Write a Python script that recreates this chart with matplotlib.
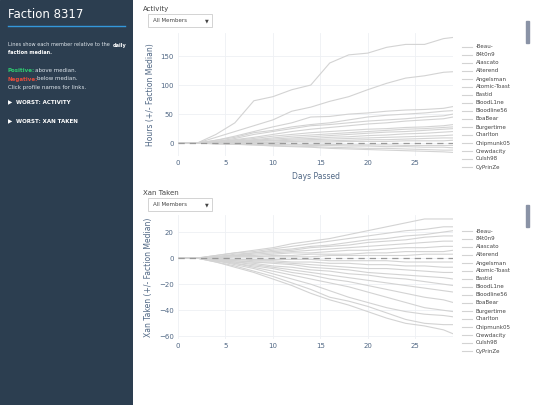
import matplotlib.pyplot as plt
from matplotlib.patches import Rectangle

days = [0, 2, 4, 6, 8, 10, 12, 14, 16, 18, 20, 22, 24, 26, 28, 29]

activity = [
    [0, 0, 15, 35, 73, 80, 92, 100, 138, 152, 155, 165, 170, 170, 180, 182],
    [0, 0, 10, 20, 30, 40, 55, 62, 72, 80, 92, 103, 112, 116, 122, 123],
    [0, 0, 5, 12, 20, 28, 35, 45, 46, 50, 52, 55, 57, 58, 60, 63],
    [0, 0, 5, 10, 18, 22, 28, 32, 35, 40, 45, 48, 50, 52, 55, 56],
    [0, 0, 3, 8, 15, 20, 25, 30, 32, 35, 38, 40, 42, 45, 47, 50],
    [0, 0, 3, 6, 10, 15, 20, 24, 27, 30, 33, 35, 38, 40, 42, 45],
    [0, 0, 2, 5, 8, 12, 15, 18, 20, 22, 24, 25, 27, 28, 30, 32],
    [0, 0, 2, 4, 6, 9, 12, 14, 16, 18, 20, 22, 24, 25, 27, 28],
    [0, 0, 1, 3, 5, 7, 9, 11, 13, 15, 17, 19, 20, 22, 24, 25],
    [0, 0, 1, 2, 4, 5, 7, 8, 10, 11, 13, 14, 16, 17, 19, 20],
    [0, 0, 1, 2, 3, 4, 5, 6, 7, 8, 9, 10, 11, 12, 13, 14],
    [0, 0, 0, 1, 2, 2, 3, 4, 4, 5, 6, 6, 7, 8, 9, 9],
    [0, 0, 0, 1, 1, 1, 2, 2, 2, 3, 3, 3, 4, 4, 4, 5],
    [0, 0, 0, -1, -1, -1, -2, -2, -2, -3, -3, -3, -4, -4, -4, -4],
    [0, 0, -1, -1, -2, -2, -3, -4, -4, -5, -5, -6, -6, -7, -7, -8],
    [0, 0, -1, -2, -3, -4, -5, -6, -7, -8, -9, -9, -10, -11, -12, -12],
    [0, 0, -1, -2, -3, -5, -6, -7, -9, -10, -11, -12, -13, -14, -15, -16],
]

xan = [
    [0, 0, 2, 4, 6, 8, 11, 13, 15, 18, 21, 24, 27, 30, 30, 30],
    [0, 0, 2, 4, 5, 7, 9, 11, 13, 15, 17, 19, 21, 22, 24, 24],
    [0, 0, 1, 3, 4, 6, 7, 9, 10, 12, 14, 15, 17, 18, 20, 21],
    [0, 0, 1, 2, 4, 5, 6, 8, 9, 10, 12, 13, 14, 16, 17, 17],
    [0, 0, 1, 2, 3, 4, 5, 6, 7, 8, 9, 10, 11, 12, 13, 13],
    [0, 0, 1, 2, 2, 3, 4, 4, 5, 6, 6, 7, 8, 8, 9, 9],
    [0, 0, 0, 1, 1, 2, 2, 3, 3, 3, 4, 4, 5, 5, 5, 6],
    [0, 0, 0, 1, 1, 1, 1, 1, 2, 2, 2, 2, 2, 3, 3, 3],
    [0, 0, 0, -1, -1, -1, -1, -1, -2, -2, -2, -2, -3, -3, -3, -3],
    [0, 0, -1, -1, -2, -2, -3, -3, -4, -4, -5, -5, -6, -6, -7, -7],
    [0, 0, -1, -2, -3, -3, -4, -5, -6, -7, -8, -8, -9, -10, -11, -11],
    [0, 0, -1, -2, -3, -4, -5, -7, -8, -9, -11, -12, -13, -14, -15, -16],
    [0, 0, -1, -3, -4, -6, -7, -9, -10, -12, -13, -15, -16, -18, -20, -21],
    [0, 0, -2, -3, -5, -7, -9, -11, -13, -15, -17, -19, -21, -23, -25, -26],
    [0, 0, -2, -4, -6, -8, -11, -13, -16, -18, -21, -24, -27, -30, -32, -34],
    [0, 0, -2, -4, -7, -10, -13, -16, -19, -22, -26, -30, -34, -38, -40, -41],
    [0, 0, -2, -5, -8, -12, -16, -20, -25, -30, -34, -38, -41, -43, -44, -45],
    [0, 0, -3, -6, -10, -14, -19, -24, -30, -33, -37, -42, -47, -50, -51, -51],
    [0, 0, -3, -7, -11, -16, -21, -27, -32, -36, -41, -46, -50, -52, -55, -58],
]

members = ["-Beau-", "84t0n9", "Alascato", "Alterend", "Angelsman", "Atomic-Toast",
           "Bastid", "BloodL1ne", "Bloodline56", "BoaBear", "Burgertime", "Charlton",
           "Chipmunk05", "Crewdacity", "Culsh98", "CyPrinZe"]

fig = plt.figure(figsize=(5.4, 4.05), dpi=100)
fig.patch.set_facecolor("white")

# sidebar
side = fig.add_axes([0, 0, 133 / 540, 1])
side.set_xlim(0, 133)
side.set_ylim(405, 0)
side.axis("off")
side.add_patch(Rectangle((0, 0), 133, 405, color="#2c3e50"))
side.text(8, 15, "Faction 8317", color="white", fontsize=8.5, va="center")
side.plot([8, 125], [26, 26], color="#3498db", lw=1)
side.text(8, 45, "Lines show each member relative to the", color="#dfe6ec", fontsize=3.6, va="center")
side.text(113, 45, "daily", color="white", fontsize=3.6, va="center", weight="bold")
side.text(8, 53, "faction median.", color="white", fontsize=3.6, va="center", weight="bold")
side.text(8, 71, "Positive:", color="#2ecc71", fontsize=4, va="center", weight="bold")
side.text(35, 71, "above median.", color="#dfe6ec", fontsize=4, va="center")
side.text(8, 79, "Negative:", color="#e74c3c", fontsize=4, va="center", weight="bold")
side.text(37, 79, "below median.", color="#dfe6ec", fontsize=4, va="center")
side.text(8, 87, "Click profile names for links.", color="#dfe6ec", fontsize=4, va="center")
side.text(8, 102, "\u25B6  WORST: ACTIVITY", color="white", fontsize=4, va="center", weight="bold")
side.text(8, 121, "\u25B6  WORST: XAN TAKEN", color="white", fontsize=4, va="center", weight="bold")


def panel(rect, series, ylim, yticks, ylabel, title, top_px, show_xlabel):
    ax = fig.add_axes(rect)
    for s in series:
        ax.plot(days, s, color="#d3d3d3", lw=0.8)
    ax.axhline(0, color="#999999", lw=0.9, ls=(0, (5, 4)))
    ax.set_xlim(0, 29)
    ax.set_ylim(*ylim)
    ax.set_xticks([0, 5, 10, 15, 20, 25])
    ax.set_yticks(yticks)
    ax.grid(color="#eef0f4", lw=0.6)
    ax.set_axisbelow(True)
    for sp in ax.spines.values():
        sp.set_visible(False)
    ax.tick_params(length=0, labelsize=5, colors="#506784", pad=3)
    ax.set_ylabel(ylabel, fontsize=5.5, color="#506784")
    if show_xlabel:
        ax.set_xlabel("Days Passed", fontsize=5.5, color="#506784")
    # title, dropdown
    fig.text(143 / 540, 1 - (top_px - 3) / 405, title, fontsize=5, color="#444", va="center")
    fig.patches.append(Rectangle((148 / 540, 1 - (top_px + 15) / 405), 64 / 540, 13 / 405,
                                 transform=fig.transFigure, facecolor="white",
                                 edgecolor="#cccccc", lw=0.6))
    fig.text(153 / 540, 1 - (top_px + 8.5) / 405, "All Members", fontsize=4, color="#444", va="center")
    fig.text(207 / 540, 1 - (top_px + 8.5) / 405, "\u25BC", fontsize=3.5, color="#444", va="center", ha="center")
    # legend
    for i, name in enumerate(members):
        y = 1 - (top_px + 35 + i * 8) / 405
        fig.lines.append(plt.Line2D([462 / 540, 472 / 540], [y, y], transform=fig.transFigure,
                                    color="#d3d3d3", lw=0.8))
        fig.text(476 / 540, y, name, fontsize=4, color="#444", va="center")
    fig.patches.append(Rectangle((526 / 540, 1 - (top_px + 31) / 405), 2.5 / 540, 22 / 405,
                                 transform=fig.transFigure, color="#8a93a6"))
    return ax


panel([178 / 540, 0.615, 275 / 540, 0.304], activity, (-22, 190), [0, 50, 100, 150],
      "Hours (+/- Faction Median)", "Activity", 12, True)
panel([178 / 540, 0.163, 275 / 540, 0.306], xan, (-62, 33), [-60, -40, -20, 0, 20],
      "Xan Taken (+/- Faction Median)", "Xan Taken", 196, False)

fig.savefig("out.png", dpi=100)
